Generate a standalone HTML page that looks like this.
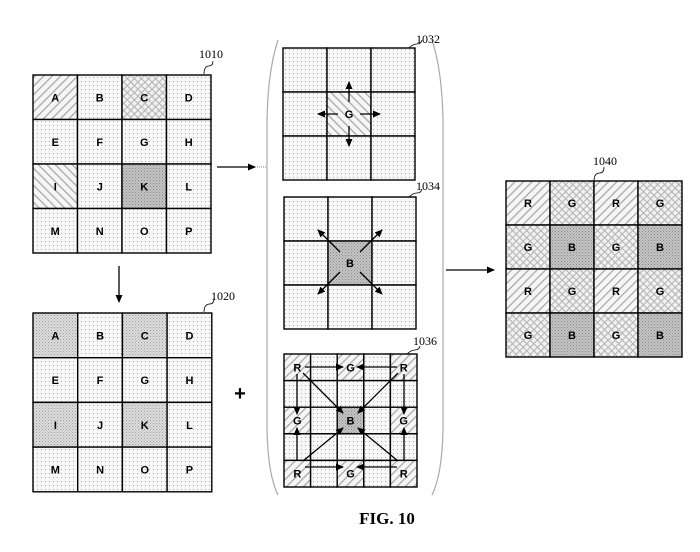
<!DOCTYPE html>
<html><head><meta charset="utf-8"><style>body{margin:0;background:#fff}svg{display:block}</style></head>
<body>
<svg id="s" width="700" height="552" xmlns="http://www.w3.org/2000/svg" font-family="Liberation Sans, sans-serif">
<defs>
<pattern id="dot" width="4" height="4" patternUnits="userSpaceOnUse"><rect width="4" height="4" fill="#f7f7f7"/><rect x="1" y="1" width="1" height="1" fill="#aaa"/></pattern>
<pattern id="hs" width="6" height="6" patternUnits="userSpaceOnUse" patternTransform="rotate(45)"><rect width="6" height="6" fill="#f6f6f6"/><rect width="1.3" height="6" fill="#aaa"/></pattern>
<pattern id="hb" width="6" height="6" patternUnits="userSpaceOnUse" patternTransform="rotate(-45)"><rect width="6" height="6" fill="#f6f6f6"/><rect width="1.3" height="6" fill="#aaa"/></pattern>
<pattern id="cx" width="5" height="5" patternUnits="userSpaceOnUse" patternTransform="rotate(45)"><rect width="5" height="5" fill="#f2f2f2"/><rect width="1.1" height="5" fill="#b5b5b5"/><rect width="5" height="1.1" fill="#b5b5b5"/></pattern>
<pattern id="dk" width="3" height="3" patternUnits="userSpaceOnUse"><rect width="3" height="3" fill="#c4c4c4"/><rect width="1" height="1" fill="#8a8a8a"/><rect x="1.5" y="1.5" width="1" height="1" fill="#999"/></pattern>
<pattern id="md" width="3" height="3" patternUnits="userSpaceOnUse"><rect width="3" height="3" fill="#dcdcdc"/><rect width="1" height="1" fill="#a0a0a0"/><rect x="1.5" y="1.5" width="1" height="1" fill="#b0b0b0"/></pattern>
<marker id="ah" markerWidth="8" markerHeight="8" refX="7" refY="4" orient="auto" markerUnits="userSpaceOnUse"><path d="M0,0.5 L8,4 L0,7.5 Z" fill="#000"/></marker>
</defs>
<g id="g" stroke="#000"></g>
<g fill="none" stroke="#000" stroke-width="1.3">
<line x1="217" y1="167" x2="255" y2="167" marker-end="url(#ah)"/>
<line x1="255" y1="167" x2="267" y2="167" stroke="#999" stroke-dasharray="1,1"/>
<line x1="119" y1="266" x2="119" y2="302" marker-end="url(#ah)"/>
<line x1="446" y1="270" x2="494" y2="270" marker-end="url(#ah)"/>
<path d="M278,40 Q268,70 267,120 L267,430 Q268,475 278,495" stroke="#aaa" stroke-width="1.2"/>
<path d="M432,40 Q442,70 443,120 L443,430 Q442,475 432,495" stroke="#aaa" stroke-width="1.2"/>
<path d="M204,74 q0,-8 5,-8 q4,0 4,-5" stroke-width="0.8"/>
<path d="M204,312 q0,-8 6,-8 q4,0 4,-6" stroke-width="0.8"/>
<path d="M409,48 q4,-4 8,-4 q4,0 5,-4" stroke-width="0.8"/>
<path d="M409,197 q4,-4 8,-4 q4,0 5,-4" stroke-width="0.8"/>
<path d="M407,354 q4,-4 8,-4 q4,0 5,-4" stroke-width="0.8"/>
<path d="M594,181 q0,-8 6,-8 q4,0 4,-6" stroke-width="0.8"/>
</g>
<g font-family="Liberation Serif, serif" font-size="12" fill="#000">
<text x="199" y="58">1010</text><text x="211" y="300">1020</text>
<text x="416" y="43">1032</text><text x="416" y="190">1034</text>
<text x="413" y="345">1036</text><text x="593" y="165">1040</text>
</g>
<text x="240" y="400" font-size="20" font-weight="bold" text-anchor="middle">+</text>
<text x="387" y="524" font-family="Liberation Serif, serif" font-size="17" font-weight="bold" text-anchor="middle">FIG. 10</text>
</svg>
<script>
var NS="http://www.w3.org/2000/svg",G=document.getElementById('g');
function el(t,a,txt){var e=document.createElementNS(NS,t);for(var k in a)e.setAttribute(k,a[k]);if(txt)e.textContent=txt;G.appendChild(e);return e;}
function grid(x,y,n,c,fills,labels){
 for(var r=0;r<n;r++)for(var q=0;q<n;q++){var i=r*n+q;
  el('rect',{x:x+q*c,y:y+r*c,width:c,height:c,fill:'url(#'+(fills[i]||'dot')+')','stroke-width':1.4});
  if(labels&&labels[i])el('text',{x:x+q*c+c/2,y:y+r*c+c/2+4,'text-anchor':'middle','font-size':11,'font-weight':'bold',stroke:'none',fill:'#000'},labels[i]);}
}
var L="ABCDEFGHIJKLMNOP".split("");
grid(33,75,4,44.5,{0:'hs',2:'cx',8:'hb',10:'dk'},L);
grid(33,313,4,44.7,{0:'md',2:'md',8:'md',10:'md'},L);
grid(283,48,3,44,{4:'hb'},{4:'G'});
grid(284,197,3,44,{4:'dk'},{4:'B'});
grid(284,354,5,26.6,{0:'hs',2:'hs',4:'hs',10:'hs',12:'dk',14:'hs',20:'hs',22:'hs',24:'hs'},{0:'R',2:'G',4:'R',10:'G',12:'B',14:'G',20:'R',22:'G',24:'R'});
var f={},l={};for(var r=0;r<4;r++)for(var q=0;q<4;q++){var i=r*4+q;if(r%2==0){f[i]=q%2?'cx':'hs';l[i]=q%2?'G':'R';}else{f[i]=q%2?'dk':'cx';l[i]=q%2?'B':'G';}}
grid(506,181,4,44,f,l);
function ar(x1,y1,x2,y2){el('line',{x1:x1,y1:y1,x2:x2,y2:y2,'stroke-width':1.3,'marker-end':'url(#ah)'});}
ar(349,102,349,82);ar(349,126,349,146);ar(338,114,318,114);ar(360,114,380,114);
ar(340,252,318,230);ar(360,252,382,230);ar(340,272,318,294);ar(360,272,382,294);
ar(305,367,343,367);ar(397,367,357,367);ar(305,467,343,467);ar(397,467,357,467);
ar(297,374,297,414);ar(297,460,297,428);ar(404,374,404,414);ar(404,460,404,428);
ar(303,373,343,413);ar(398,373,358,413);ar(303,461,343,428);ar(398,461,358,428);
</script>
</body></html>
